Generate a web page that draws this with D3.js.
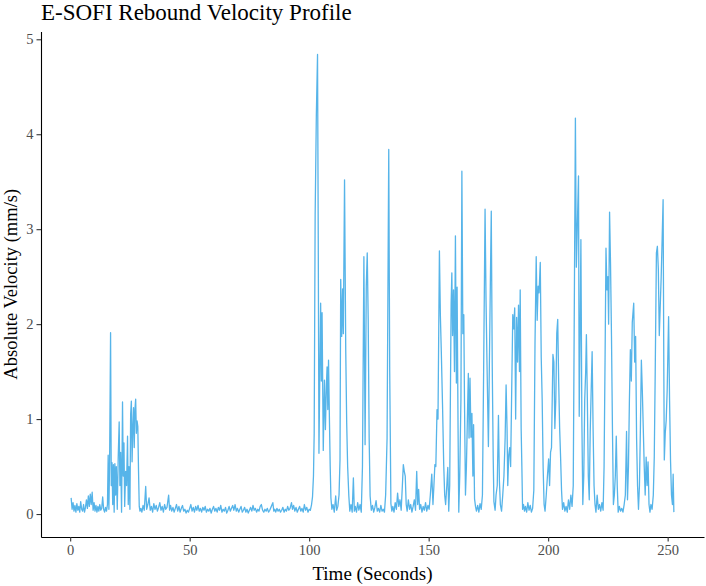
<!DOCTYPE html>
<html>
<head>
<meta charset="utf-8">
<script src="https://cdn.jsdelivr.net/npm/d3@7"></script>
<style>
  html, body { margin: 0; padding: 0; background: #ffffff; }
  svg { display: block; }
</style>
</head>
<body>
<svg id="chart" width="706" height="586"></svg>
<script>
// ---- Data: [time (s), absolute velocity (mm/s)] ----
const quietStart = [
  [0.4,0.17],[0.8,0.05],[1.2,0.12],[1.6,0.03],[2.0,0.09],[2.4,0.02],[2.8,0.11],[3.2,0.04],
  [3.6,0.08],[4.0,0.02],[4.4,0.13],[4.8,0.05],[5.2,0.03],[5.6,0.10],[6.0,0.02],[6.4,0.07],
  [6.8,0.15],[7.2,0.06],[7.6,0.19],[8.0,0.08],[8.4,0.21],[8.8,0.10],[9.2,0.23],[9.6,0.04],
  [10.0,0.12],[10.4,0.03],[10.8,0.09],[11.2,0.02],[11.6,0.08],[12.0,0.03],[12.4,0.10],[12.8,0.04],
  [13.2,0.06],[13.6,0.18],[14.0,0.05],[14.4,0.02],[14.8,0.07],[15.2,0.03]
];
const firstBurst = [
  [15.6,0.10],[15.9,0.62],[16.2,0.05],[16.5,0.55],[16.9,1.91],[17.2,0.30],[17.5,0.54],[17.8,0.10],
  [18.1,0.52],[18.4,0.02],[18.7,0.53],[19.0,0.20],[19.3,0.50],[19.7,0.05],[20.1,0.60],[20.5,0.97],
  [20.8,0.30],[21.1,0.65],[21.5,0.02],[21.9,1.18],[22.2,0.40],[22.5,0.75],[22.8,0.08],[23.2,0.45],
  [23.6,0.30],[24.0,0.82],[24.3,0.10],[24.6,0.50],[25.0,0.05],[25.3,1.05],[25.6,1.19],[25.9,0.55],
  [26.2,0.90],[26.5,1.12],[26.8,0.70],[27.1,1.10],[27.4,1.21],[27.7,0.85],[28.0,0.98],[28.3,0.92],
  [28.6,0.45],[28.9,0.08],[29.2,0.03]
];
const quietMiddle = [
  [29.6,0.06],[30.0,0.02],[30.5,0.09],[31.0,0.04],[31.6,0.29],[32.0,0.05],[32.5,0.10],[33.0,0.17],
  [33.5,0.04],[34.0,0.08],[34.5,0.02],[35.0,0.11],[35.5,0.05],[36.0,0.09],[36.5,0.03],[37.0,0.07],
  [37.5,0.12],[38.0,0.04],[38.5,0.08],[39.0,0.02],[39.5,0.10],[40.0,0.05],[40.5,0.07],[41.2,0.20],
  [41.6,0.04],[42.0,0.09],[42.5,0.03],[43.0,0.07],[43.5,0.02],[44.0,0.06],[44.5,0.10],[45.0,0.03],
  [45.5,0.08],[46.0,0.02],[46.5,0.06],[47.0,0.09],[47.5,0.03],[48.0,0.05],[48.5,0.01],[49.0,0.04],
  [49.5,0.02],[50.0,0.06],[50.5,0.10],[51.0,0.03],[51.5,0.07],[52.0,0.02],[52.5,0.08],[53.0,0.04],
  [53.5,0.09],[54.0,0.03],[54.5,0.06],[55.0,0.02],[55.5,0.07],[56.0,0.04],[56.5,0.08],[57.0,0.02],
  [57.5,0.05],[58.0,0.03],[58.5,0.06],[59.0,0.01],[59.5,0.05],[60.0,0.08],[60.5,0.03],[61.0,0.06],
  [61.5,0.02],[62.0,0.07],[62.5,0.04],[63.0,0.09],[63.5,0.02],[64.0,0.05],[64.5,0.03],[65.0,0.07],
  [65.5,0.01],[66.0,0.04],[66.5,0.08],[67.0,0.03],[67.5,0.06],[68.0,0.09],[68.5,0.04],[69.0,0.10],
  [69.5,0.03],[70.0,0.06],[70.5,0.02],[71.0,0.05],[71.5,0.08],[72.0,0.02],[72.5,0.04],[73.0,0.07],
  [73.5,0.02],[74.0,0.05],[74.5,0.01],[75.0,0.04],[75.5,0.07],[76.0,0.03],[76.5,0.09],[77.0,0.04],
  [77.5,0.06],[78.0,0.02],[78.5,0.05],[79.0,0.03],[79.5,0.08],[80.0,0.10],[80.5,0.04],[81.0,0.02],
  [81.5,0.05],[82.0,0.03],[82.5,0.06],[83.0,0.02],[83.5,0.04],[84.0,0.07],[84.8,0.12],[85.2,0.03],
  [85.6,0.05],[86.0,0.02],[86.5,0.06],[87.0,0.03],[87.5,0.05],[88.0,0.02],[88.5,0.04],[89.0,0.07],
  [89.5,0.02],[90.0,0.05],[90.5,0.03],[91.0,0.08],[91.5,0.04],[92.0,0.06],[92.6,0.12],[93.0,0.05],
  [93.5,0.09],[94.0,0.03],[94.5,0.07],[95.0,0.02],[95.5,0.05],[96.0,0.08],[96.5,0.03],[97.0,0.06],
  [97.5,0.02],[98.0,0.10],[98.5,0.04],[99.0,0.07],[99.5,0.02],[100.0,0.05],[100.5,0.04]
];
const activePhase = [
  [101.0,0.10],[101.4,0.18],[101.8,0.40],[102.1,0.85],[102.5,3.14],[103.0,4.20],[103.5,4.84],[103.8,2.90],
  [104.1,0.64],[104.5,1.60],[104.8,2.22],[105.1,1.40],[105.4,2.12],[105.9,0.67],[106.4,1.41],[106.8,0.89],
  [107.2,1.35],[107.5,1.55],[107.8,1.10],[108.1,1.62],[108.5,0.96],[108.8,0.50],[109.1,0.17],[109.5,0.05],
  [110.0,0.10],[110.5,0.02],[111.1,0.19],[111.5,0.04],[112.0,0.08],[112.5,0.20],[112.9,0.57],[113.2,2.47],
  [113.6,1.87],[114.0,2.37],[114.3,1.90],[114.8,3.52],[115.3,1.73],[115.7,0.96],[116.1,0.50],[116.6,0.19],
  [117.0,0.03],[117.5,0.10],[118.0,0.02],[118.5,0.38],[118.9,0.03],[119.3,0.08],[119.8,0.02],[120.3,0.12],
  [120.8,0.04],[121.3,0.10],[121.8,0.02],[122.3,0.50],[122.9,2.71],[123.4,0.73],[123.9,2.40],[124.3,2.75],
  [124.7,2.05],[125.1,0.80],[125.5,0.19],[126.0,0.04],[126.5,0.09],[127.0,0.02],[127.5,0.07],[128.0,0.14],
  [128.5,0.03],[129.0,0.06],[129.5,0.02],[130.0,0.09],[130.5,0.03],[131.0,0.05],[131.5,0.02],[132.0,0.20],
  [132.6,0.80],[133.3,3.84],[133.7,1.50],[134.2,0.11],[134.6,0.03],[135.0,0.08],[135.5,0.02],[136.0,0.12],
  [136.5,0.05],[137.0,0.22],[137.5,0.08],[138.0,0.15],[138.5,0.04],[139.0,0.30],[139.4,0.52],[139.8,0.45],
  [140.2,0.40],[140.6,0.10],[141.0,0.03],[141.5,0.15],[142.0,0.05],[142.5,0.10],[143.0,0.02],[143.5,0.08],
  [144.0,0.15],[144.5,0.04],[145.0,0.45],[145.4,0.10],[145.8,0.26],[146.2,0.05],[146.7,0.10],[147.2,0.02],
  [147.7,0.08],[148.2,0.04],[148.7,0.12],[149.2,0.03],[149.7,0.09],[150.2,0.05],[150.7,0.20],[151.3,0.42],
  [151.8,0.10],[152.2,0.30],[152.6,0.52],[153.0,0.50],[153.5,1.10],[153.9,1.00],[154.5,2.77],[154.9,2.09],
  [155.3,1.70],[155.8,1.15],[156.3,0.52],[156.7,0.20],[157.1,0.10],[157.6,0.30],[158.0,0.49],[158.4,0.03],
  [158.8,0.30],[159.4,2.22],[159.7,2.54],[160.0,1.88],[160.4,2.36],[160.8,1.50],[161.2,2.93],[161.6,1.38],
  [161.9,2.39],[162.3,0.90],[162.6,0.02],[163.0,0.40],[163.5,1.20],[163.9,3.61],[164.3,1.90],[164.7,2.10],
  [165.0,1.17],[165.4,0.20],[165.8,0.50],[166.2,1.00],[166.6,1.48],[166.9,0.80],[167.3,1.43],[167.7,0.81],
  [168.1,1.06],[168.5,0.40],[168.8,0.94],[169.2,0.16],[169.6,0.08],[170.0,0.03],[170.5,0.09],[171.0,0.02],
  [171.5,0.11],[172.0,0.05],[172.5,0.20],[173.0,1.50],[173.6,3.21],[174.0,2.26],[174.4,1.60],[175.0,0.71],
  [175.4,1.57],[175.8,2.40],[176.2,3.19],[176.6,1.57],[177.0,0.60],[177.3,0.13],[177.8,0.04],[178.2,0.20],
  [178.7,0.30],[179.2,1.04],[179.6,0.35],[180.0,0.10],[180.5,0.03],[181.0,0.20],[181.5,0.40],[182.0,0.80],
  [182.4,1.36],[182.8,0.90],[183.1,0.30],[183.5,0.62],[183.9,0.70],[184.3,0.50],[184.8,1.40],[185.2,2.10],
  [185.6,1.95],[186.0,2.17],[186.4,1.00],[186.8,2.07],[187.2,1.60],[187.6,2.20],[188.0,1.50],[188.3,2.36],
  [188.7,0.90],[189.0,0.50],[189.3,0.05],[189.7,0.10],[190.1,0.03],[190.5,0.08],[191.0,0.02],[191.5,0.12],
  [192.0,0.04],[192.5,0.09],[193.0,0.02],[193.5,0.06],[194.0,0.25],[194.5,1.80],[195.0,2.71],[195.4,2.04],
  [195.8,2.40],[196.2,2.33],[196.7,2.65],[197.1,1.65],[197.5,1.20],[197.9,0.49],[198.3,0.10],[198.7,0.03],
  [199.2,0.20],[199.7,0.40],[200.2,0.58],[200.6,0.30],[201.0,0.65],[201.4,0.70],[201.7,1.20],[202.0,1.68],
  [202.4,1.60],[202.8,0.90],[203.2,1.20],[203.6,1.90],[204.0,2.05],[204.4,1.40],[204.8,0.91],[205.2,0.60],
  [205.6,0.25],[206.0,0.05],[206.5,0.12],[207.0,0.03],[207.5,0.08],[208.0,0.02],[208.5,0.15],[209.0,0.05],
  [209.5,0.20],[210.0,0.08],[210.5,0.30],[210.9,2.00],[211.4,4.17],[211.8,2.60],[212.2,3.02],[212.7,3.56],
  [213.0,1.03],[213.4,2.00],[213.7,2.89],[214.1,1.00],[214.5,0.10],[214.9,0.40],[215.3,1.20],[215.7,1.50],
  [216.0,1.89],[216.4,1.20],[216.8,0.40],[217.2,0.15],[217.6,0.87],[218.0,1.30],[218.4,1.71],[218.8,0.90],
  [219.2,0.30],[219.6,0.10],[220.0,0.02],[220.5,0.20],[221.0,0.05],[221.5,0.10],[222.0,0.03],[222.5,0.12],
  [223.0,0.04],[223.4,0.50],[223.8,1.60],[224.2,2.80],[224.6,2.36],[225.0,2.50],[225.3,2.00],[225.7,3.18],
  [226.1,2.63],[226.5,1.87],[226.9,0.90],[227.3,0.10],[227.7,0.20],[228.1,0.40],[228.5,0.82],[228.9,0.30],
  [229.3,0.02],[229.8,0.08],[230.3,0.03],[230.8,0.06],[231.3,0.02],[231.8,0.10],[232.3,0.20],[232.8,0.87],
  [233.2,0.15],[233.6,0.50],[234.0,1.20],[234.4,1.73],[234.8,1.40],[235.2,2.02],[235.8,2.22],[236.2,1.60],
  [236.6,1.87],[237.0,0.80],[237.4,0.30],[237.8,0.05],[238.2,0.30],[238.6,0.90],[239.0,1.62],[239.4,1.30],
  [239.8,0.90],[240.2,0.50],[240.6,0.20],[241.0,0.60],[241.4,0.30],[241.8,0.55],[242.2,0.10],[242.6,0.02],
  [243.0,0.10],[243.5,0.05],[244.0,0.20],[244.4,0.60],[244.8,1.50],[245.3,2.75],[245.7,2.82],[246.1,2.58],
  [246.5,1.88],[246.9,2.19],[247.3,2.50],[247.7,2.90],[248.1,3.31],[248.4,1.50],[248.6,0.57],[249.0,0.85],
  [249.4,0.99],[249.8,1.30],[250.4,2.08],[250.8,1.20],[251.2,0.57],[251.6,0.20],[252.0,0.10],[252.3,0.42],
  [252.6,0.02]
];
const xTicks = [0, 50, 100, 150, 200, 250];
const yTicks = [0, 1, 2, 3, 4, 5];
const titleText = "E-SOFI Rebound Velocity Profile";
const xLabel = "Time (Seconds)";
const yLabel = "Absolute Velocity (mm/s)";

const data = [...quietStart, ...firstBurst, ...quietMiddle, ...activePhase]
  .map(d => ({ t: d[0], v: d[1] }));

// ---- Layout ----
const svg = d3.select("#chart");
const W = 706, H = 586;
const margin = { left: 41, right: 2, top: 31.5, bottom: 49 };
const FONT = "'Liberation Serif', 'Times New Roman', Times, serif";

const tExt = d3.extent(data, d => d.t);
const vExt = [0, d3.max(data, d => d.v)];
const tPad = (tExt[1] - tExt[0]) * 0.05;
const vPad = (vExt[1] - vExt[0]) * 0.05;

const x = d3.scaleLinear()
  .domain([tExt[0] - tPad, tExt[1] + tPad])
  .range([margin.left, W - margin.right]);
const y = d3.scaleLinear()
  .domain([vExt[0] - vPad, vExt[1] + vPad])
  .range([H - margin.bottom, margin.top]);

svg.append("rect").attr("width", W).attr("height", H).attr("fill", "#ffffff");

// ---- Line ----
const line = d3.line().x(d => x(d.t)).y(d => y(d.v));
svg.append("path")
  .datum(data)
  .attr("d", line)
  .attr("fill", "none")
  .attr("stroke", "#56B4E9")
  .attr("stroke-width", 1.3)
  .attr("stroke-linejoin", "round");

// ---- Axes ----
const xAxis = svg.append("g")
  .attr("transform", `translate(0,${H - margin.bottom})`)
  .call(d3.axisBottom(x).tickValues(xTicks).tickFormat(d3.format("d"))
    .tickSize(4.5).tickPadding(3).tickSizeOuter(0));
const yAxis = svg.append("g")
  .attr("transform", `translate(${margin.left},0)`)
  .call(d3.axisLeft(y).tickValues(yTicks).tickFormat(d3.format("d"))
    .tickSize(4.5).tickPadding(3).tickSizeOuter(0));

[xAxis, yAxis].forEach(g => {
  g.attr("font-family", FONT).attr("font-size", 14.5);
  g.select(".domain").attr("stroke", "#000").attr("stroke-width", 1.1);
  g.selectAll(".tick line").attr("stroke", "#333333").attr("stroke-width", 1.1);
  g.selectAll(".tick text")
    .attr("fill", "#4d4d4d")
    .attr("font-family", FONT)
    .attr("font-size", 14.5);
});

// ---- Titles ----
svg.append("text")
  .attr("x", margin.left)
  .attr("y", 20)
  .attr("fill", "#000")
  .attr("font-family", FONT)
  .attr("font-size", 23)
  .text(titleText);

svg.append("text")
  .attr("x", (margin.left + W - margin.right) / 2)
  .attr("y", 580)
  .attr("text-anchor", "middle")
  .attr("fill", "#000")
  .attr("font-family", FONT)
  .attr("font-size", 19)
  .text(xLabel);

svg.append("text")
  .attr("transform", `translate(17,${(margin.top + H - margin.bottom) / 2}) rotate(-90)`)
  .attr("text-anchor", "middle")
  .attr("fill", "#000")
  .attr("font-family", FONT)
  .attr("font-size", 18.5)
  .text(yLabel);
</script>
</body>
</html>
